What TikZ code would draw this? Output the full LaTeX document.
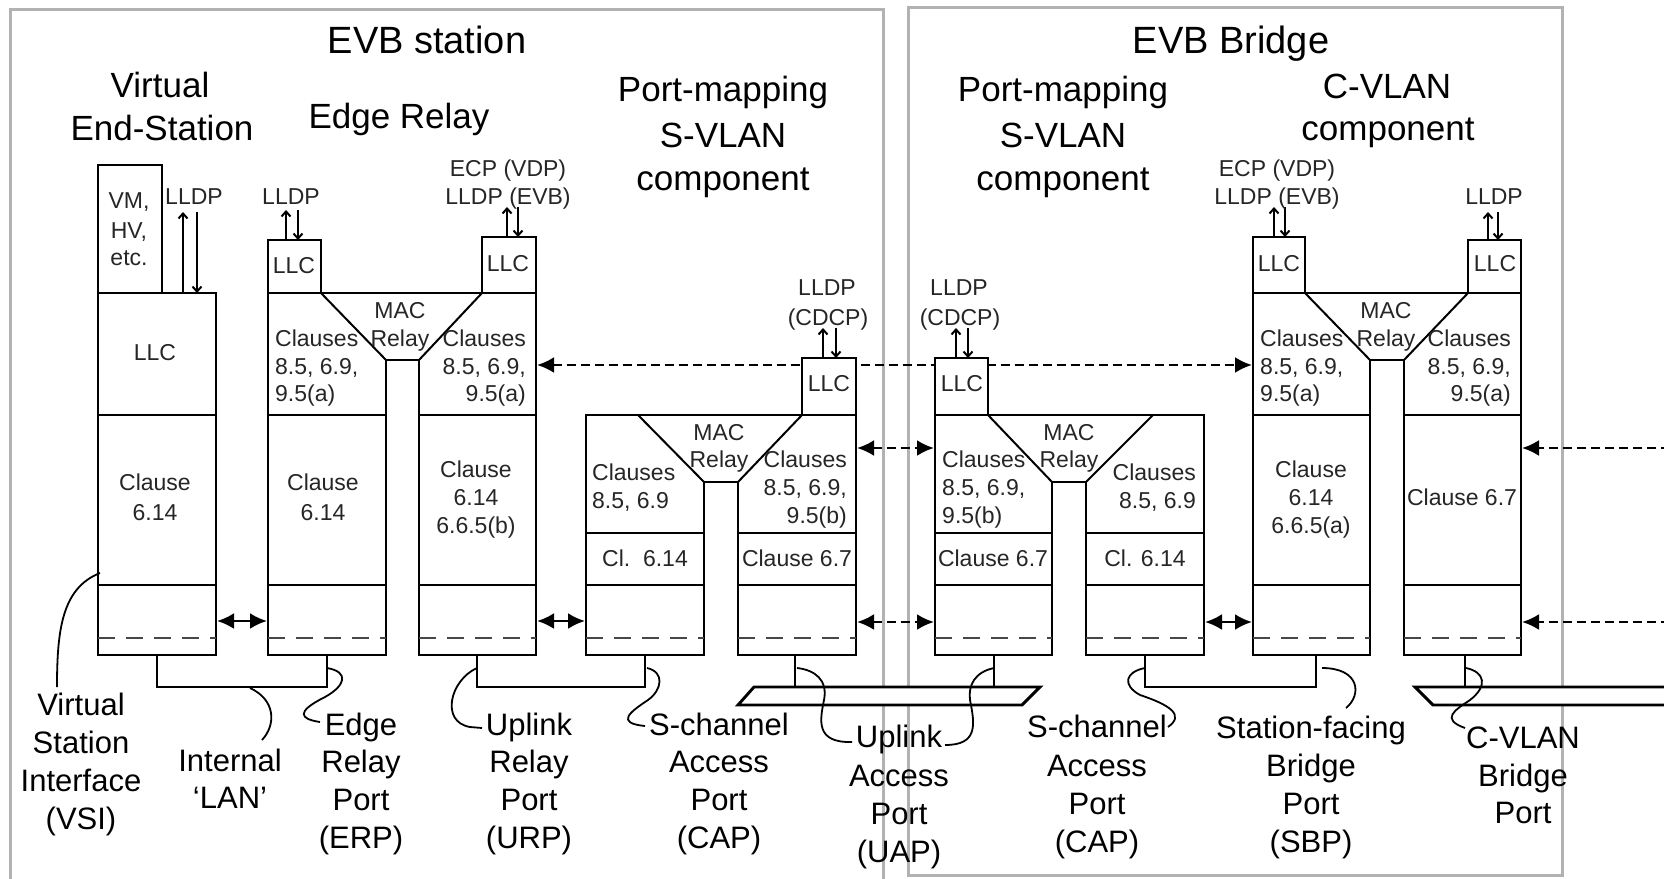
\documentclass[tikz,border=0pt]{standalone}
\usepackage{fontspec}
\setmainfont{Liberation Sans}
\usetikzlibrary{arrows.meta}
\begin{document}
\begin{tikzpicture}[x=1pt,y=-1pt,
  box/.style={line width=2.9pt, line join=miter},
  ln/.style={line width=2pt},
  dsh/.style={line width=2.8pt, black!72, dash pattern=on 17pt off 11pt},
  frame/.style={line width=3pt, black!30},
  lead/.style={line width=1.8pt},
  tx/.style={inner sep=0pt, anchor=base},
  ttl/.style={tx, font=\fontsize{38}{44}\selectfont},
  big/.style={tx, font=\fontsize{35}{40}\selectfont},
  lab/.style={tx, font=\fontsize{31}{36}\selectfont},
  sm/.style={tx, font=\fontsize{23}{27}\selectfont, text=black!85},
  sml/.style={sm, anchor=base west},
  smr/.style={sm, anchor=base east},
  biarrow/.style={line width=2.6pt, {Latex[length=17pt,width=16pt]}-{Latex[length=17pt,width=16pt]}},
  dbiarrow/.style={biarrow, dash pattern=on 9pt off 5pt},
  larrow/.style={line width=2.4pt, dash pattern=on 9pt off 5pt, -{Latex[length=17pt,width=16pt]}},
  pu/.style={line width=2pt, -{Straight Barb[length=5pt,width=9pt]}},
]
\useasboundingbox (0,0) rectangle (1664,878);
\fill[white] (0,0) rectangle (1664,878);

% frames
\draw[frame] (10,885) -- (10,9) -- (883,9) -- (883,885);
\draw[frame] (908,7) rectangle (1562,875);

% coordinates for connectors
\coordinate (Ar) at (217,621);
\coordinate (ERPl) at (267,621);
\coordinate (URPr) at (537,621);
\coordinate (CAPl) at (585,621);
\coordinate (CAPr1) at (857,448);
\coordinate (CAPb1) at (934,448);
\coordinate (CAPr2) at (857,622);
\coordinate (CAPb2) at (934,622);
\coordinate (CAPbr) at (1205,622);
\coordinate (SBPl) at (1252,622);
\coordinate (CVr1) at (1522,448);
\coordinate (CVr2) at (1522,622);
\coordinate (E1) at (1670,448);
\coordinate (E2) at (1670,622);
\coordinate (URPm) at (537,365);
\coordinate (SBPm) at (1252,365);

% long dashed arrow (behind LLC boxes)
\draw[dbiarrow] (URPm) -- (SBPm);

% ---- Virtual end station
\draw[box] (98,165) rectangle (162,293);
\draw[box] (98,293) rectangle (216,655);
\draw[box] (98,415) -- (216,415);
\draw[box] (98,585) -- (216,585);
\draw[dsh] (98,638) -- (216,638);

% ---- Edge relay
\draw[box] (268,293) -- (536,293) -- (536,655) -- (419,655) -- (419,360) -- (386,360) -- (386,655) -- (268,655) -- cycle;
\draw[ln] (321,293) -- (386,360);
\draw[ln] (482,293) -- (419,360);
\draw[box, fill=white] (268,240) rectangle (321,293);
\draw[box, fill=white] (482,237) rectangle (536,293);
\draw[box] (268,415) -- (386,415) (419,415) -- (536,415);
\draw[box] (268,585) -- (386,585) (419,585) -- (536,585);
\draw[dsh] (268,638) -- (386,638);
\draw[dsh] (419,638) -- (536,638);

% ---- S-VLAN component (station)
\draw[box] (586,415) -- (856,415) -- (856,655) -- (738,655) -- (738,482) -- (704,482) -- (704,655) -- (586,655) -- cycle;
\draw[ln] (638,415) -- (704,482);
\draw[ln] (802,415) -- (738,482);
\draw[box, fill=white] (802,358) rectangle (856,415);
\draw[box] (586,533) -- (704,533) (738,533) -- (856,533);
\draw[box] (586,585) -- (704,585) (738,585) -- (856,585);
\draw[dsh] (586,638) -- (704,638);
\draw[dsh] (738,638) -- (856,638);

% ---- S-VLAN component (bridge)
\draw[box] (935,415) -- (1204,415) -- (1204,655) -- (1086,655) -- (1086,482) -- (1052,482) -- (1052,655) -- (935,655) -- cycle;
\draw[ln] (988,415) -- (1052,482);
\draw[ln] (1153,415) -- (1086,482);
\draw[box, fill=white] (935,358) rectangle (988,415);
\draw[box] (935,533) -- (1052,533) (1086,533) -- (1204,533);
\draw[box] (935,585) -- (1052,585) (1086,585) -- (1204,585);
\draw[dsh] (935,638) -- (1052,638);
\draw[dsh] (1086,638) -- (1204,638);

% ---- C-VLAN component
\draw[box] (1253,293) -- (1521,293) -- (1521,655) -- (1404,655) -- (1404,360) -- (1370,360) -- (1370,655) -- (1253,655) -- cycle;
\draw[ln] (1305,293) -- (1370,360);
\draw[ln] (1468,293) -- (1404,360);
\draw[box, fill=white] (1253,237) rectangle (1305,293);
\draw[box, fill=white] (1468,240) rectangle (1521,293);
\draw[box] (1253,415) -- (1370,415) (1404,415) -- (1521,415);
\draw[box] (1253,585) -- (1370,585) (1404,585) -- (1521,585);
\draw[dsh] (1253,638) -- (1370,638);
\draw[dsh] (1404,638) -- (1521,638);

% ---- links and media
\draw[box] (157,655) -- (157,687) -- (327,687) -- (327,655);
\draw[box] (477,655) -- (477,687) -- (645,687) -- (645,655);
\draw[box] (795,655) -- (795,687);
\draw[box] (994,655) -- (994,687);
\draw[box] (1145,655) -- (1145,687) -- (1316,687) -- (1316,655);
\draw[box] (1465,655) -- (1465,687);
\draw[box, fill=white] (754,687) -- (1040,687) -- (1022,705) -- (738,705) -- cycle;
\fill[white] (1415,687) -- (1680,687) -- (1680,705) -- (1433,705) -- cycle;
\draw[box] (1680,687) -- (1415,687) -- (1433,705) -- (1680,705);

% ---- arrows
\draw[biarrow] (Ar) -- (ERPl);
\draw[biarrow] (URPr) -- (CAPl);
\draw[dbiarrow] (CAPr1) -- (CAPb1);
\draw[dbiarrow] (CAPr2) -- (CAPb2);
\draw[biarrow] (CAPbr) -- (SBPl);
\draw[larrow] (E1) -- (CVr1);
\draw[larrow] (E2) -- (CVr2);

% protocol arrows
\draw[pu] (183,293) -- (183,212);  \draw[pu] (197,212) -- (197,293);
\draw[pu] (286,240) -- (286,210);  \draw[pu] (298,210) -- (298,240);
\draw[pu] (507,237) -- (507,207);  \draw[pu] (518,207) -- (518,237);
\draw[pu] (823,358) -- (823,328);  \draw[pu] (836,328) -- (836,358);
\draw[pu] (956,358) -- (956,328);  \draw[pu] (968,328) -- (968,358);
\draw[pu] (1274,237) -- (1274,207); \draw[pu] (1285,207) -- (1285,237);
\draw[pu] (1488,240) -- (1488,212); \draw[pu] (1498,212) -- (1498,240);

% ---- leaders
\draw[lead] (100,573) .. controls (62,588) and (57,630) .. (57,687);
\draw[lead] (250,688) .. controls (276,700) and (276,725) .. (262,740);
\draw[lead] (327,668) .. controls (350,672) and (345,686) .. (325,697) .. controls (295,712) and (300,719) .. (320,722);
\draw[lead] (477,668) .. controls (450,680) and (440,722) .. (470,727) -- (482,728);
\draw[lead] (647,668) .. controls (665,672) and (662,690) .. (648,700) .. controls (630,712) and (615,723) .. (645,726);
\draw[lead] (797,668) .. controls (815,670) and (828,680) .. (824,700) .. controls (820,720) and (815,743) .. (852,742);
\draw[lead] (994,668) .. controls (975,672) and (968,685) .. (970,700) .. controls (975,725) and (978,745) .. (945,745);
\draw[lead] (1145,668) .. controls (1125,672) and (1122,685) .. (1140,695) .. controls (1170,705) and (1185,715) .. (1168,727);
\draw[lead] (1322,668) .. controls (1360,668) and (1362,695) .. (1346,708);
\draw[lead] (1466,668) .. controls (1485,672) and (1488,686) .. (1470,700) .. controls (1455,710) and (1440,719) .. (1465,728);

% ---- titles
\node[ttl] (tst) at (427,53) {EVB station};
\node[ttl] (tbr) at (1231,53) {EVB Bridge};
\node[big] (ves1) at (160,97) {Virtual};
\node[big] (ves2) at (162,140) {End-Station};
\node[big] (er) at (399,128) {Edge Relay};
\node[big] (pm1) at (723,101) {Port-mapping};
\node[big] (pm2) at (723,147) {S-VLAN};
\node[big] (pm3) at (723,190) {component};
\node[big] (pb1) at (1063,101) {Port-mapping};
\node[big] (pb2) at (1063,147) {S-VLAN};
\node[big] (pb3) at (1063,190) {component};
\node[big] (cv1) at (1387,98) {C-VLAN};
\node[big] (cv2) at (1388,140) {component};

% ---- small texts: VES
\node[sm] (vm1) at (129,208) {VM,};
\node[sm] (vm2) at (129,238) {HV,};
\node[sm] (vm3) at (129,265) {etc.};
\node[sm] (vl) at (194,204) {LLDP};
\node[sm] (vllc) at (155,360) {LLC};
\node[sm] (vc1) at (155,490) {Clause};
\node[sm] (vc2) at (155,520) {6.14};

% Edge relay
\node[sm] (el1) at (291,204) {LLDP};
\node[sm] (ellc1) at (294,273) {LLC};
\node[sm] (ee1) at (508,176) {ECP (VDP)};
\node[sm] (ee2) at (508,204) {LLDP (EVB)};
\node[sm] (ellc2) at (508,271) {LLC};
\node[sm] (emac) at (400,318) {MAC};
\node[sm] (erel) at (400,346) {Relay};
\node[sml] (ea1) at (275,346) {Clauses};
\node[sml] (ea2) at (275,374) {8.5, 6.9,};
\node[sml] (ea3) at (275,401) {9.5(a)};
\node[smr] (eb1) at (526,346) {Clauses};
\node[smr] (eb2) at (526,374) {8.5, 6.9,};
\node[smr] (eb3) at (526,401) {9.5(a)};
\node[sm] (ec1) at (323,490) {Clause};
\node[sm] (ec2) at (323,520) {6.14};
\node[sm] (ed1) at (476,477) {Clause};
\node[sm] (ed2) at (476,505) {6.14};
\node[sm] (ed3) at (476,533) {6.6.5(b)};

% S-VLAN station
\node[sm] (sl1) at (827,295) {LLDP};
\node[sm] (sl2) at (828,325) {(CDCP)};
\node[sm] (sllc) at (829,391) {LLC};
\node[sm] (smac) at (719,440) {MAC};
\node[sm] (srel) at (719,467) {Relay};
\node[sml] (sa1) at (592,480) {Clauses};
\node[sml] (sa2) at (592,508) {8.5, 6.9};
\node[smr] (sb1) at (847,467) {Clauses};
\node[smr] (sb2) at (847,495) {8.5, 6.9,};
\node[smr] (sb3) at (847,523) {9.5(b)};
\node[sm] (sc1) at (645,566) {Cl.~~6.14};
\node[sm] (sc2) at (797,566) {Clause 6.7};

% S-VLAN bridge
\node[sm] (bl1) at (959,295) {LLDP};
\node[sm] (bl2) at (960,325) {(CDCP)};
\node[sm] (bllc) at (962,391) {LLC};
\node[sm] (bmac) at (1069,440) {MAC};
\node[sm] (brel) at (1069,467) {Relay};
\node[sml] (ba1) at (942,467) {Clauses};
\node[sml] (ba2) at (942,495) {8.5, 6.9,};
\node[sml] (ba3) at (942,523) {9.5(b)};
\node[smr] (bb1) at (1196,480) {Clauses};
\node[smr] (bb2) at (1196,508) {8.5, 6.9};
\node[sm] (bc1) at (993,566) {Clause 6.7};
\node[sm] (bc2) at (1145,566) {Cl. 6.14};

% C-VLAN
\node[sm] (ce1) at (1277,176) {ECP (VDP)};
\node[sm] (ce2) at (1277,204) {LLDP (EVB)};
\node[sm] (cl) at (1494,204) {LLDP};
\node[sm] (cllc1) at (1279,271) {LLC};
\node[sm] (cllc2) at (1495,271) {LLC};
\node[sm] (cmac) at (1386,318) {MAC};
\node[sm] (crel) at (1386,346) {Relay};
\node[sml] (ca1) at (1260,346) {Clauses};
\node[sml] (ca2) at (1260,374) {8.5, 6.9,};
\node[sml] (ca3) at (1260,401) {9.5(a)};
\node[smr] (cb1) at (1511,346) {Clauses};
\node[smr] (cb2) at (1511,374) {8.5, 6.9,};
\node[smr] (cb3) at (1511,401) {9.5(a)};
\node[sm] (cc1) at (1311,477) {Clause};
\node[sm] (cc2) at (1311,505) {6.14};
\node[sm] (cc3) at (1311,533) {6.6.5(a)};
\node[sm] (cd1) at (1462,505) {Clause 6.7};

% ---- bottom labels
\node[lab] (vsi1) at (81,715) {Virtual};
\node[lab] (vsi2) at (81,753) {Station};
\node[lab] (vsi3) at (81,791) {Interface};
\node[lab] (vsi4) at (81,829) {(VSI)};
\node[lab] (lan1) at (230,771) {Internal};
\node[lab] (lan2) at (230,808) {‘LAN’};
\node[lab] (erp1) at (361,735) {Edge};
\node[lab] (erp2) at (361,772) {Relay};
\node[lab] (erp3) at (361,810) {Port};
\node[lab] (erp4) at (361,848) {(ERP)};
\node[lab] (urp1) at (529,735) {Uplink};
\node[lab] (urp2) at (529,772) {Relay};
\node[lab] (urp3) at (529,810) {Port};
\node[lab] (urp4) at (529,848) {(URP)};
\node[lab] (cap1) at (719,735) {S-channel};
\node[lab] (cap2) at (719,772) {Access};
\node[lab] (cap3) at (719,810) {Port};
\node[lab] (cap4) at (719,848) {(CAP)};
\node[lab] (uap1) at (899,747) {Uplink};
\node[lab] (uap2) at (899,786) {Access};
\node[lab] (uap3) at (899,824) {Port};
\node[lab] (uap4) at (899,862) {(UAP)};
\node[lab] (cbp1) at (1097,737) {S-channel};
\node[lab] (cbp2) at (1097,776) {Access};
\node[lab] (cbp3) at (1097,814) {Port};
\node[lab] (cbp4) at (1097,852) {(CAP)};
\node[lab] (sbp1) at (1311,738) {Station-facing};
\node[lab] (sbp2) at (1311,776) {Bridge};
\node[lab] (sbp3) at (1311,814) {Port};
\node[lab] (sbp4) at (1311,852) {(SBP)};
\node[lab] (cvp1) at (1523,748) {C-VLAN};
\node[lab] (cvp2) at (1523,786) {Bridge};
\node[lab] (cvp3) at (1523,823) {Port};
\end{tikzpicture}
\end{document}
